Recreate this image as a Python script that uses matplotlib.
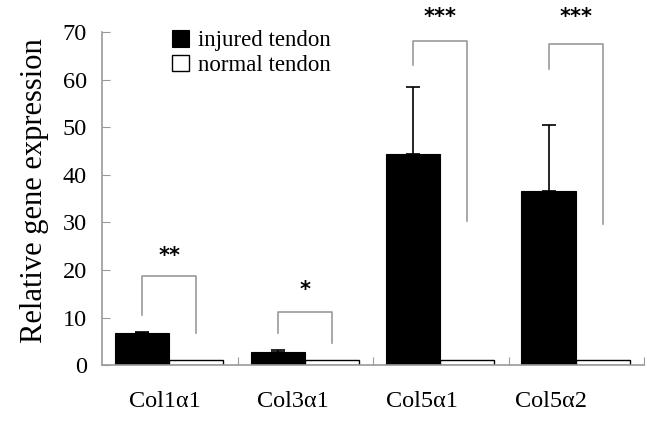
import matplotlib
matplotlib.use("Agg")
import matplotlib.pyplot as plt
import numpy as np

genes = ["Col1α1", "Col3α1", "Col5α1", "Col5α2"]
injured = [6.7, 2.7, 44.5, 36.7]
injured_err = [0.2, 0.5, 14.1, 13.8]
normal = [1.0, 1.0, 1.0, 1.0]
stars = ["**", "*", "***", "***"]
bracket_top = [18.7, 11.2, 68.2, 67.5]
bracket_left_end = [10.5, 6.8, 63.1, 62.2]
bracket_right_end = [6.8, 4.7, 30.3, 29.6]
star_y = [23.0, 15.8, 73.2, 73.2]

plt.rcParams["font.family"] = ["Liberation Serif", "DejaVu Serif"]

fig = plt.figure(figsize=(6.47, 4.23), dpi=100)
ax = fig.add_axes([0.158, 0.137, 0.8375, 0.7866])

x = np.arange(len(genes))
width = 0.4
xb = x + 0.095 + width / 2
xw = xb + width

ax.bar(xb, injured, width, color="black", edgecolor="black", linewidth=0.8,
       label="injured tendon")
ax.errorbar(xb, injured, yerr=[np.zeros(len(injured)), injured_err], fmt="none",
            ecolor="black", elinewidth=1.2, capsize=5, capthick=1.2)
ax.bar(xw, normal, width, color="white", edgecolor="black", linewidth=1.0,
       label="normal tendon")

gray = "#9a9a9a"
for i in range(len(genes)):
    ax.plot([xb[i], xb[i], xw[i], xw[i]],
            [bracket_left_end[i], bracket_top[i], bracket_top[i], bracket_right_end[i]],
            color=gray, linewidth=1.2)
    ax.text((xb[i] + xw[i]) / 2, star_y[i], stars[i], ha="center", va="center",
            fontsize=15, fontweight="bold", family="DejaVu Sans", clip_on=False)

ax.set_xlim(0, 4)
ax.set_ylim(0, 70)
ax.set_yticks(range(0, 71, 10))
ax.set_xticks([1, 2, 3, 4])
ax.set_xticklabels([])
# category labels sit a little left of the group centres in the original
ax.set_xticks(x * 0.95 + 0.46, minor=True)
ax.set_xticklabels(genes, minor=True, fontsize=17.5)
ax.tick_params(axis="x", which="minor", length=0, pad=19)
ax.tick_params(axis="x", which="major", direction="in", length=6, color=gray)
ax.tick_params(axis="y", direction="in", length=6, color=gray, labelsize=17.5, pad=11)
for side in ["top", "right"]:
    ax.spines[side].set_visible(False)
for side in ["left", "bottom"]:
    ax.spines[side].set_color(gray)
    ax.spines[side].set_linewidth(1.2)

ax.set_ylabel("Relative gene expression", fontsize=22)
ax.yaxis.set_label_coords(-0.098, 0.525)

leg = ax.legend(loc="upper left", bbox_to_anchor=(0.111, 1.035), frameon=False,
                fontsize=16.5, handlelength=0.75, handleheight=0.75,
                handletextpad=0.4, labelspacing=0.15, borderaxespad=0)

fig.savefig("out.png", dpi=100)
